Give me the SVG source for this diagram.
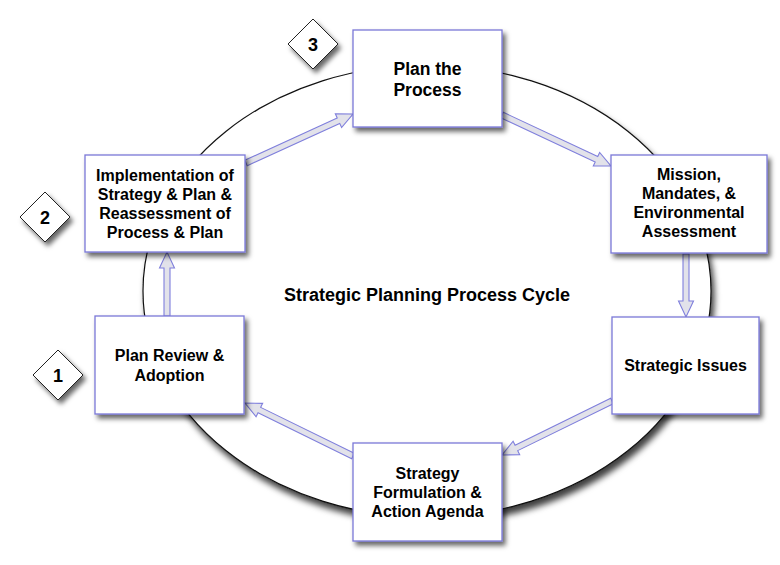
<svg xmlns="http://www.w3.org/2000/svg" width="780" height="565" viewBox="0 0 780 565">
<style>
.box{fill:#fff;stroke:#7a78d8;stroke-width:1.3;filter:url(#sh)}
.dia{fill:#fff;stroke:#222;stroke-width:1;filter:url(#sh)}
.t{font-family:"Liberation Sans",Arial,sans-serif;font-weight:bold;font-size:16px;fill:#000;text-anchor:middle}
.big{font-size:17.5px}
.num{font-size:18px}
.arr{fill:#e2e2ea;stroke:#7f7fdc;stroke-width:1.1;stroke-linejoin:miter}
</style>
<defs>
<filter id="sh" x="-20%" y="-20%" width="150%" height="150%">
<feDropShadow dx="3" dy="4" stdDeviation="2.5" flood-color="#000" flood-opacity="0.6"/>
</filter>
<filter id="esh" x="-10%" y="-10%" width="130%" height="130%">
<feDropShadow dx="3" dy="6" stdDeviation="3" flood-color="#000" flood-opacity="0.75"/>
</filter>
</defs>
<rect width="780" height="565" fill="#fff"/>
<ellipse cx="427" cy="291" rx="284" ry="226" fill="#fff" stroke="#111" stroke-width="1.2" filter="url(#esh)"/>
<text class="t" x="427" y="301" style="font-size:18px">Strategic Planning Process Cycle</text>
<g id="connectors">
<path class="arr" transform="translate(246,163) rotate(-24.6)" d="M0,-3 L101.7,-3 L101.7,-7.5 L117.7,0 L101.7,7.5 L101.7,3 L0,3 Z"/>
<path class="arr" transform="translate(502,115) rotate(25.07)" d="M0,-3 L104.3,-3 L104.3,-7.5 L120.3,0 L104.3,7.5 L104.3,3 L0,3 Z"/>
<path class="arr" transform="translate(686,254) rotate(90)" d="M0,-3 L47,-3 L47,-7.5 L63,0 L47,7.5 L47,3 L0,3 Z"/>
<path class="arr" transform="translate(612,401) rotate(153.85)" d="M0,-3 L106.5,-3 L106.5,-7.5 L122.5,0 L106.5,7.5 L106.5,3 L0,3 Z"/>
<path class="arr" transform="translate(353,456) rotate(-153.87)" d="M0,-3 L104.3,-3 L104.3,-7.5 L120.3,0 L104.3,7.5 L104.3,3 L0,3 Z"/>
<path class="arr" transform="translate(167,316) rotate(-90)" d="M0,-3 L48,-3 L48,-7.5 L64,0 L48,7.5 L48,3 L0,3 Z"/>
</g>
<g id="plan-process">
<rect class="box" x="353" y="30" width="149" height="97"/>
<text class="t big" x="427.5" y="75">Plan the</text>
<text class="t big" x="427.5" y="96">Process</text>
</g>
<g id="mission">
<rect class="box" x="611" y="155" width="156" height="98"/>
<text class="t" x="689" y="180">Mission,</text>
<text class="t" x="689" y="199">Mandates, &amp;</text>
<text class="t" x="689" y="218">Environmental</text>
<text class="t" x="689" y="237">Assessment</text>
</g>
<g id="strategic-issues">
<rect class="box" x="612" y="317" width="147" height="97"/>
<text class="t" x="685.5" y="371">Strategic Issues</text>
</g>
<g id="strategy-formulation">
<rect class="box" x="353" y="443" width="149" height="98"/>
<text class="t" x="427.5" y="479">Strategy</text>
<text class="t" x="427.5" y="498">Formulation &amp;</text>
<text class="t" x="427.5" y="517">Action Agenda</text>
</g>
<g id="plan-review">
<rect class="box" x="95" y="316" width="149" height="98"/>
<text class="t" x="169.5" y="361">Plan Review &amp;</text>
<text class="t" x="169.5" y="381">Adoption</text>
</g>
<g id="implementation">
<rect class="box" x="85" y="155" width="160" height="97"/>
<text class="t" x="165" y="181">Implementation of</text>
<text class="t" x="165" y="200">Strategy &amp; Plan &amp;</text>
<text class="t" x="165" y="219">Reassessment of</text>
<text class="t" x="165" y="238">Process &amp; Plan</text>
</g>
<g id="step-3">
<polygon class="dia" points="313,19 338,44 313,69 288,44"/>
<text class="t num" x="313" y="50.5">3</text>
</g>
<g id="step-2">
<polygon class="dia" points="45,192 70,217 45,242 20,217"/>
<text class="t num" x="45" y="223.5">2</text>
</g>
<g id="step-1">
<polygon class="dia" points="58,350 83,375 58,400 33,375"/>
<text class="t num" x="58" y="381.5">1</text>
</g>
</svg>
